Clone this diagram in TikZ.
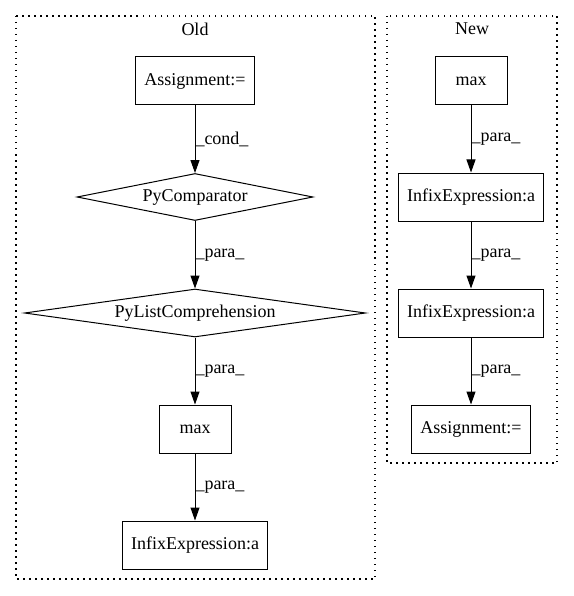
\documentclass[tikz,border=0pt]{standalone}
\usepackage{fontspec}
\setmainfont{Liberation Serif}
\usepackage{tikz}
\usetikzlibrary{shapes.geometric}
\usetikzlibrary{arrows.meta}

\begin{document}
\begin{tikzpicture}[x=1pt,y=-1pt,
		box/.style={draw,line width=1pt,minimum height=48pt,minimum width=72pt,inner xsep=9pt,font=\fontsize{18}{22}\selectfont},
		cmp/.style={draw,diamond,line width=1pt,inner sep=0pt,aspect=5,font=\fontsize{18}{22}\selectfont},
		flow/.style={-{Triangle[length=13pt,width=9pt]},line width=1pt},
		lbl/.style={right,inner sep=0pt,font=\fontsize{18}{22}\selectfont},
		frame/.style={line width=1.1pt,dash pattern=on 1.5pt off 4.5pt}]
		\useasboundingbox (0,0) rectangle (573,596);
		% clusters
		\draw[frame] (16,16) rectangle (375,579);
		\draw[frame] (387,16) rectangle (557,463);
		\node[lbl,anchor=center] (oldtitle) at (195,29) {Old};
		\node[lbl,anchor=center] (newtitle) at (472,29) {New};
		% old
		\node[box] (oldassign) at (195,81) {Assignment:=};
		\node[cmp,minimum width=236pt,minimum height=47pt] (oldcmp) at (195,197) {PyComparator};
		\node[cmp,aspect=7,minimum width=341pt,minimum height=48pt] (oldlist) at (195,313) {PyListComprehension};
		\node[box] (oldmax) at (195,429) {max};
		\node[box] (oldinfix) at (195,545) {InfixExpression:a};
		\draw[flow] (oldassign) -- node[lbl,midway] {\_cond\_} (oldcmp);
		\draw[flow] (oldcmp) -- node[lbl,midway] {\_para\_} (oldlist);
		\draw[flow] (oldlist) -- node[lbl,midway] {\_para\_} (oldmax);
		\draw[flow] (oldmax) -- node[lbl,midway] {\_para\_} (oldinfix);
		% new
		\node[box] (newmax) at (471,81) {max};
		\node[box] (newinfixa) at (471,197) {InfixExpression:a};
		\node[box] (newinfixb) at (471,313) {InfixExpression:a};
		\node[box] (newassign) at (471,429) {Assignment:=};
		\draw[flow] (newmax) -- node[lbl,midway] {\_para\_} (newinfixa);
		\draw[flow] (newinfixa) -- node[lbl,midway] {\_para\_} (newinfixb);
		\draw[flow] (newinfixb) -- node[lbl,midway] {\_para\_} (newassign);
	\end{tikzpicture}
\end{document}
